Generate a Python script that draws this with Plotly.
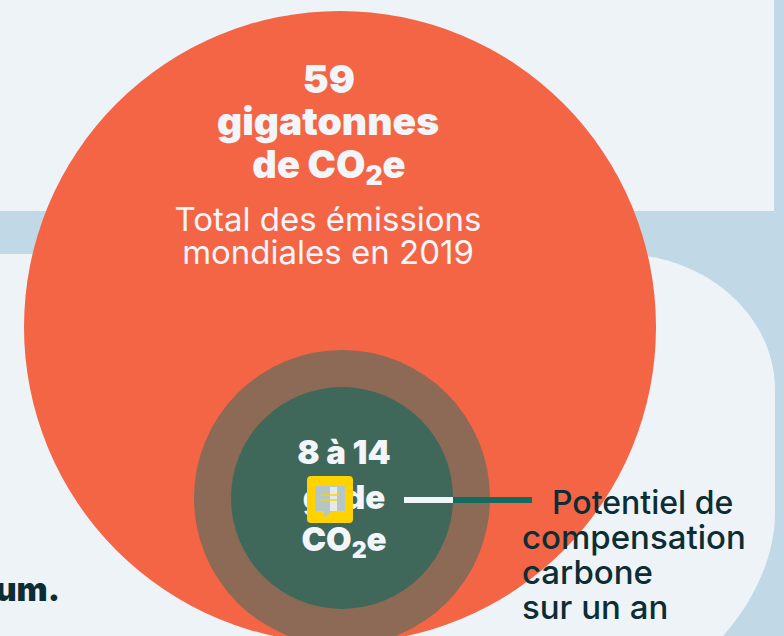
import plotly.graph_objects as go

# Data
emission_labels = ["Total des émissions mondiales en 2019", "Potentiel haut", "Potentiel bas"]
emission_values = [59, 14, 8]
circle_x = [340, 342, 342]
circle_y = [327, 498, 498]
circle_diam = [632, 296, 222]
circle_colors = ["#F46546", "#8C6A55", "#3F685B"]

PANEL = "#EEF3F8"
BAND = "#C1D8E6"
WHITE = "#F2F5F9"
DARK = "#0D2D34"
W, H = 784, 636
HEAD = "Inter"

fig = go.Figure()
fig.add_trace(go.Scatter(
    x=circle_x, y=circle_y, mode="markers", text=emission_labels,
    customdata=emission_values, hoverinfo="text",
    marker=dict(size=circle_diam, color=circle_colors, opacity=1, line=dict(width=0)),
    cliponaxis=True, showlegend=False))

shapes = [
    dict(type="rect", x0=-10, x1=774, y0=-10, y1=211, fillcolor=PANEL, line_width=0, layer="below"),
    dict(type="path",
         path="M -10 254 L 620 254 C 705 254 775 315 775 390 "
              "L 775 513 C 775 555 755 600 723 636 L 700 660 L -10 660 Z",
         fillcolor=PANEL, line_width=0, layer="below"),
    dict(type="line", x0=404, x1=453, y0=500, y1=500, line=dict(color=WHITE, width=6), layer="above"),
    dict(type="line", x0=453, x1=532, y0=500, y1=500, line=dict(color="#136B5E", width=6), layer="above"),
]
fig.update_layout(shapes=shapes)


def text(x, y, s, size, color=WHITE, weight=900, family=HEAD, pos="middle center"):
    fig.add_trace(go.Scatter(
        x=[x], y=[y], mode="text", text=[s], textposition=pos, hoverinfo="skip", showlegend=False,
        textfont=dict(size=size, color=color, family=family, weight=weight), cliponaxis=False))


text(329, 83, "59", 39)
text(328, 125, "gigatonnes", 39)
text(329, 168, "de CO<sub>2</sub>e", 38)
text(328, 223, "Total des émissions", 33, weight=400)
text(328, 256, "mondiales en 2019", 33, weight=400)
text(344, 456, "8 à 14", 33)
text(344, 501, "gt de", 33)
text(344, 543, "CO<sub>2</sub>e", 33)
text(552, 506, "Potentiel de", 32, DARK, 500, pos="middle right")
text(522, 541, "compensation", 33, DARK, 500, pos="middle right")
text(522, 576, "carbone", 33, DARK, 500, pos="middle right")
text(522, 611, "sur un an", 33, DARK, 500, pos="middle right")
text(60, 593, "um.", 33, DARK, 900, pos="middle left")

fig.update_layout(
    width=W, height=H, margin=dict(l=0, r=0, t=0, b=0),
    paper_bgcolor=BAND, plot_bgcolor=BAND, showlegend=False,
    xaxis=dict(range=[0, W], visible=False, fixedrange=True),
    yaxis=dict(range=[H, 0], visible=False, fixedrange=True),
)

# Comment icon over the text
fig.add_shape(type="path", path="M 311 476 L 349 476 Q 353 476 353 480 L 353 519 Q 353 523 349 523 L 311 523 Q 307 523 307 519 L 307 480 Q 307 476 311 476 Z",
              fillcolor="#FFD200", line_width=0, layer="above")
fig.add_shape(type="path", path="M 315 486 L 345 486 L 345 511 L 333 511 L 324 517 L 324 511 L 315 511 Z",
              fillcolor="#B4C6C6", line_width=0, layer="above")
fig.add_shape(type="rect", x0=330, x1=337, y0=487, y1=511, fillcolor="#E4EAEA", line_width=0, layer="above")
fig.add_shape(type="line", x0=321, x1=339, y0=495, y1=495, line=dict(color="#FFD200", width=1.5), layer="above")
fig.add_shape(type="line", x0=321, x1=337, y0=500, y1=500, line=dict(color="#FFD200", width=1.5), layer="above")

fig.write_html("out.html", config=dict(displayModeBar=False),
               post_script="document.body.style.margin='0';document.body.style.overflow='hidden';")
